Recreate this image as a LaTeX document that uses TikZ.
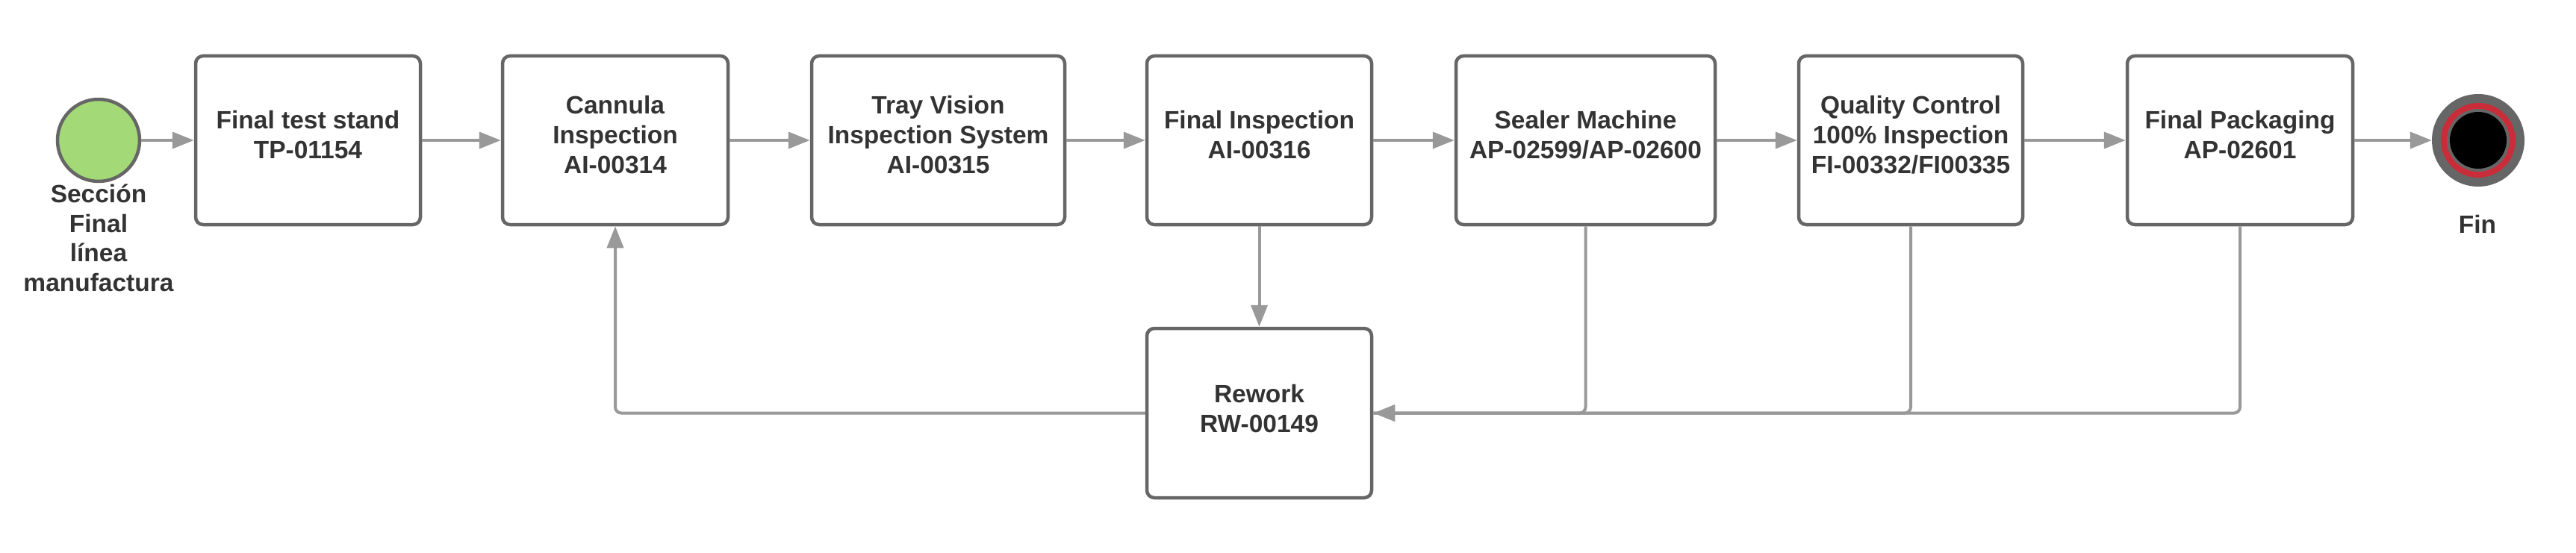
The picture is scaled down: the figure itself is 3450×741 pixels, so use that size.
\documentclass[tikz,border=0pt]{standalone}
\usepackage{fontspec}
\setmainfont{Liberation Sans}
\usetikzlibrary{arrows.meta}
\definecolor{txt}{HTML}{333333}
\definecolor{bord}{HTML}{666666}
\definecolor{conn}{HTML}{999999}
\definecolor{startg}{HTML}{A3D977}
\definecolor{endred}{HTML}{C92D39}
\begin{document}
\begin{tikzpicture}[x=1pt,y=-1pt,
  every node/.style={font=\fontsize{33.5}{40}\selectfont\bfseries, text=txt},
  procbox/.style={draw=bord, line width=4.5pt, rounded corners=10pt, fill=white,
    minimum height=226pt, inner sep=0pt},
  boxtext/.style={align=center, yshift=7pt},
  flow/.style={draw=conn, line width=4pt, rounded corners=8pt,
    -{Triangle[length=29pt,width=22pt]}},
  plainflow/.style={draw=conn, line width=4pt, rounded corners=8pt}]
\useasboundingbox (0,0) rectangle (3450,741);
\fill[white] (0,0) rectangle (3450,741);

% start event
\node[circle, draw=bord, line width=4.5pt, fill=startg, minimum size=110pt, inner sep=0pt] (start) at (132,188) {};
\node[align=center, font=\fontsize{33.5}{39.5}\selectfont\bfseries] (startlbl) at (132,319) {Sección\\Final\\línea\\manufactura};

% process boxes
\node[procbox, minimum width=301pt, label={[boxtext]center:Final test stand\\TP-01154}] (b1) at (412.5,188) {};
\node[procbox, minimum width=302pt, label={[boxtext]center:Cannula\\Inspection\\AI-00314}] (b2) at (824,188) {};
\node[procbox, minimum width=339pt, label={[boxtext]center:Tray Vision\\Inspection System\\AI-00315}] (b3) at (1256.5,188) {};
\node[procbox, minimum width=301pt, label={[boxtext]center:Final Inspection\\AI-00316}] (b4) at (1686.5,188) {};
\node[procbox, minimum width=347pt, label={[boxtext]center:Sealer Machine\\AP-02599/AP-02600}] (b5) at (2123.5,188) {};
\node[procbox, minimum width=300pt, label={[boxtext]center:Quality Control\\100\% Inspection\\FI-00332/FI00335}] (b6) at (2559,188) {};
\node[procbox, minimum width=302pt, label={[boxtext]center:Final Packaging\\AP-02601}] (b7) at (3000,188) {};
\node[procbox, minimum width=301pt, minimum height=227pt, label={[boxtext,yshift=-1.5pt]center:Rework\\RW-00149}] (rw) at (1686.5,553.5) {};

% end event
\node[circle, fill=bord, minimum size=124pt, inner sep=0pt] (fin) at (3319,188) {};
\fill[endred] (fin.center) circle (50pt);
\fill[bord] (fin.center) circle (42pt);
\fill[black] (fin.center) circle (38pt);
\node (finlbl) at (3318,300) {Fin};

% main flow
\draw[flow] (start) -- (b1);
\draw[flow] (b1) -- (b2);
\draw[flow] (b2) -- (b3);
\draw[flow] (b3) -- (b4);
\draw[flow] (b4) -- (b5);
\draw[flow] (b5) -- (b6);
\draw[flow] (b6) -- (b7);
\draw[flow] (b7) -- (fin);

% rework flows
\draw[flow] (b4) -- (rw);
\draw[flow] (rw.west) -| (b2.south);
\draw[plainflow] (b6.south) |- (rw.east);
\draw[plainflow] (b7.south) |- (rw.east);
\draw[flow] (b5.south) |- (rw.east);
\end{tikzpicture}
\end{document}
